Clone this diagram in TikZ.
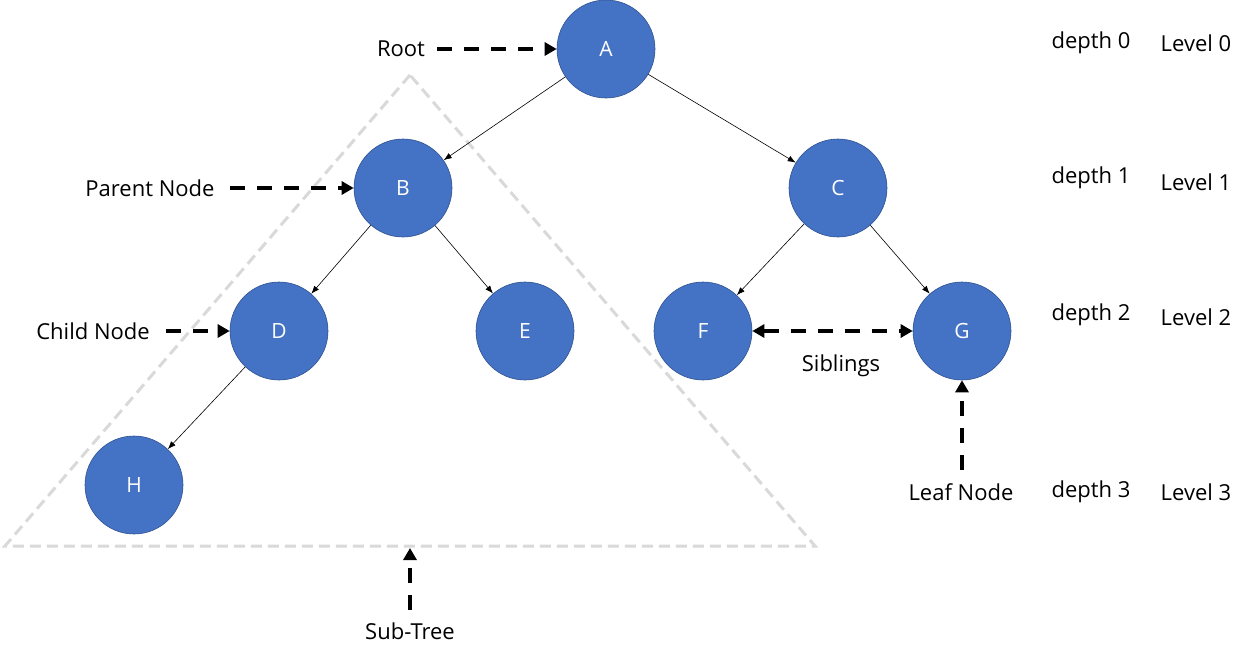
\documentclass[tikz,border=0pt]{standalone}
\usepackage{fontspec}
\setmainfont{Open Sans}
\usetikzlibrary{arrows.meta}
\definecolor{nodeblue}{HTML}{4472C4}
\definecolor{nodeedge}{HTML}{2F528F}
\definecolor{trigrey}{HTML}{D9D9D9}
\begin{document}
\begin{tikzpicture}[x=1pt,y=-1pt,
  treenode/.style={circle,fill=nodeblue,draw=nodeedge,line width=0.6pt,minimum size=98pt,inner sep=0pt,text=white,font=\fontsize{21}{23}\selectfont},
  lbl/.style={font=\fontsize{22}{25}\selectfont,inner sep=0pt},
  edge/.style={line width=0.6pt,-{Latex[length=8pt,width=6pt]}},
  pointer/.style={line width=3.5pt,dash pattern=on 15pt off 12pt,-{Triangle[length=12pt,width=13pt]}},
  subtree/.style={trigrey,line width=3pt,dash pattern=on 11pt off 6pt}]
\useasboundingbox (0,0) rectangle (1250,659);
% subtree triangle
\coordinate (t1) at (410,75);
\coordinate (t2) at (5,546);
\coordinate (t3) at (815,546);
\draw[subtree] (t1) -- (t2) -- (t3) -- cycle;
% nodes
\node[treenode] (A) at (606,49) {A};
\node[treenode] (B) at (403,188) {B};
\node[treenode] (C) at (838,188) {C};
\node[treenode] (D) at (279,331) {D};
\node[treenode] (E) at (525,331) {E};
\node[treenode] (F) at (703,331) {F};
\node[treenode] (G) at (962,331) {G};
\node[treenode] (H) at (134,485) {H};
% edges
\draw[edge] (A) -- (B);
\draw[edge] (A) -- (C);
\draw[edge] (B) -- (D);
\draw[edge] (B) -- (E);
\draw[edge] (C) -- (F);
\draw[edge] (C) -- (G);
\draw[edge] (D) -- (H);
% labels
\node[lbl] (root) at (401,49) {Root};
\node[lbl] (parent) at (150,188) {Parent Node};
\node[lbl] (child) at (93,331) {Child Node};
\node[lbl] (sib) at (841,366) {Siblings};
\node[lbl] (leaf) at (961,492) {Leaf Node};
\node[lbl] (sub) at (410,631) {Sub-Tree};
\node[lbl] (d0) at (1091,43) {depth 0};
\node[lbl] (l0) at (1196,43) {Level 0};
\node[lbl] (d1) at (1091,178) {depth 1};
\node[lbl] (l1) at (1196,182) {Level 1};
\node[lbl] (d2) at (1091,315) {depth 2};
\node[lbl] (l2) at (1196,317) {Level 2};
\node[lbl] (d3) at (1091,492) {depth 3};
\node[lbl] (l3) at (1196,492) {Level 3};
% pointers
\coordinate (rootS) at (437,49);
\coordinate (parentS) at (230,188);
\coordinate (childS) at (166,331);
\coordinate (leafS) at (962,470);
\coordinate (subS) at (410,610);
\coordinate (subtop) at (410,548);
\draw[pointer] (rootS) -- (A.west);
\draw[pointer] (parentS) -- (B.west);
\draw[pointer] (childS) -- (D.west);
\draw[pointer,{Triangle[length=12pt,width=13pt]}-{Triangle[length=12pt,width=13pt]}] (F.east) -- (G.west);
\draw[pointer] (leafS) -- (G.south);
\draw[pointer] (subS) -- (subtop);
\end{tikzpicture}
\end{document}
